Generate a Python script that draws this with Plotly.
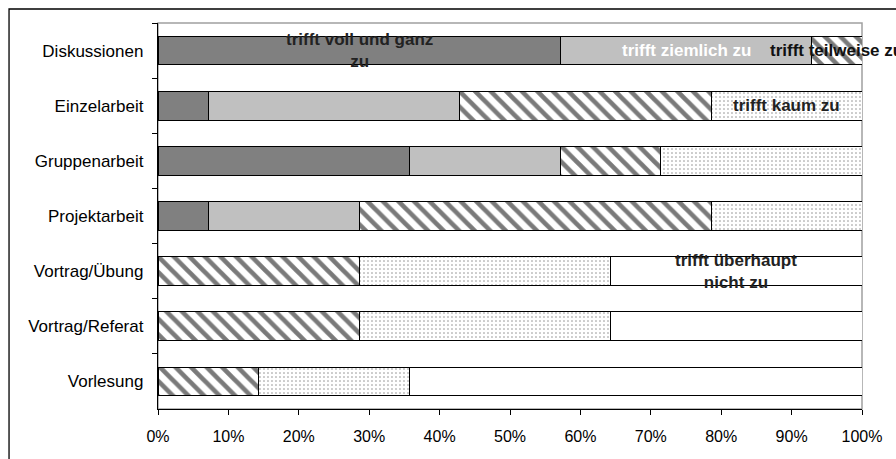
import plotly.graph_objects as go

categories = ["Diskussionen", "Einzelarbeit", "Gruppenarbeit", "Projektarbeit",
              "Vortrag/Übung", "Vortrag/Referat", "Vorlesung"]
series_names = ["trifft voll und ganz zu", "trifft ziemlich zu", "trifft teilweise zu",
                "trifft kaum zu", "trifft überhaupt nicht zu"]
label_texts = ["trifft voll und ganz<br>zu", "trifft ziemlich zu", "trifft teilweise zu",
               "trifft kaum zu", "trifft überhaupt<br>nicht zu"]
voll = [8, 1, 5, 1, 0, 0, 0]
ziemlich = [5, 5, 3, 3, 0, 0, 0]
teilweise = [1, 5, 2, 7, 4, 4, 2]
kaum = [0, 3, 4, 3, 5, 5, 3]
nicht = [0, 0, 0, 0, 5, 5, 9]
x_ticks = [0, 10, 20, 30, 40, 50, 60, 70, 80, 90, 100]
x_tick_labels = ["0%", "10%", "20%", "30%", "40%", "50%", "60%", "70%", "80%", "90%", "100%"]

all_series = [voll, ziemlich, teilweise, kaum, nicht]
styles = [
    dict(color="#808080"),
    dict(color="#c0c0c0"),
    dict(color="white", pattern=dict(shape="\\", fgcolor="#7a7a7a", bgcolor="white",
                                     size=11, solidity=0.42, fillmode="replace")),
    dict(color="white", pattern=dict(shape=".", fgcolor="#8a8a8a", bgcolor="white",
                                     size=4, solidity=0.12, fillmode="replace")),
    dict(color="white"),
]
label_colors = ["#222222", "white", "#111111", "#222222", "#222222"]

FONT = "Liberation Sans, Arial, sans-serif"
fig = go.Figure()
for name, vals, st in zip(series_names, all_series, styles):
    fig.add_trace(go.Bar(
        y=categories, x=vals, name=name, orientation="h",
        marker=dict(line=dict(color="black", width=1), **st),
        hoverinfo="skip",
    ))

# data labels: series name on first non-zero bar of each series, centered in segment
totals = [sum(s[i] for s in all_series) for i in range(len(categories))]
annotations = []
for k, (vals, txt, col) in enumerate(zip(all_series, label_texts, label_colors)):
    idx = next(i for i, v in enumerate(vals) if v > 0)
    start = sum(all_series[j][idx] for j in range(k)) / totals[idx] * 100
    mid = start + vals[idx] / totals[idx] * 50
    annotations.append(dict(x=mid, y=categories[idx], xref="x", yref="y", text=txt,
                            showarrow=False, xanchor="center", yanchor="middle",
                            font=dict(family=FONT, size=17, color=col, weight="bold")))

fig.update_layout(
    barmode="stack", barnorm="percent", bargap=0.48,
    width=896, height=459,
    margin=dict(l=158, r=34, t=23, b=50),
    paper_bgcolor="white", plot_bgcolor="white",
    showlegend=False,
    font=dict(family=FONT, size=16, color="black"),
    annotations=annotations,
    shapes=[
        dict(type="rect", xref="paper", yref="paper", x0=0, x1=1, y0=0, y1=1,
             line=dict(color="#a0a0a0", width=1.5), layer="below"),
        dict(type="rect", xref="paper", yref="paper", x0=-0.2116, x1=1.08, y0=-0.2, y1=1.0363,
             line=dict(color="black", width=1.3), layer="above"),
    ],
)
fig.update_xaxes(range=[0, 100], tickmode="array", tickvals=x_ticks, ticktext=x_tick_labels,
                 ticks="outside", ticklen=5, tickcolor="black", showline=True,
                 linecolor="black", linewidth=1.3, showgrid=False, zeroline=False,
                 ticklabelstandoff=8, tickfont=dict(size=16))
fig.update_yaxes(type="category", autorange="reversed", tickson="boundaries",
                 ticks="outside", ticklen=5, tickcolor="black", showline=True,
                 linecolor="black", linewidth=1.3, showgrid=False, ticklabelstandoff=10,
                 tickfont=dict(size=17))

fig.write_html("out.html")
